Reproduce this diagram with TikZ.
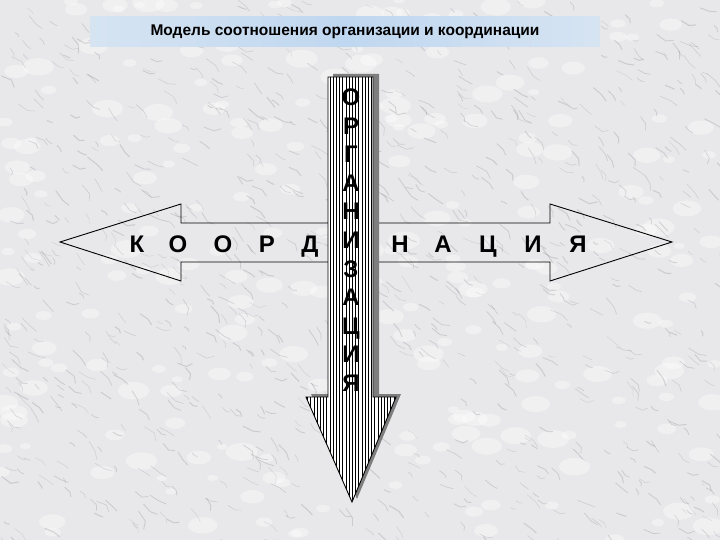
\documentclass[tikz,border=0pt]{standalone}
\usepackage{fontspec}
\setmainfont{Liberation Sans}
\definecolor{marble}{HTML}{E8E8EA}
\definecolor{veinc}{HTML}{74747C}
\definecolor{barblue}{HTML}{BFD7F0}
\definecolor{baredge}{HTML}{D6E4F2}
\definecolor{shadowc}{HTML}{7E7E7E}
\tikzset{
  harrow/.style={draw=black, line width=0.9pt, line join=miter},
  varrow/.style={draw=black, line width=0.9pt, line join=miter},
  hletter/.style={font=\fontsize{24}{28}\selectfont\bfseries, inner sep=0pt, anchor=base},
  vletter/.style={font=\fontsize{24}{28}\selectfont\bfseries, inner sep=0pt, anchor=base},
  titlebar/.style={left color=baredge, right color=baredge, middle color=barblue,
    minimum width=510pt, minimum height=30pt, inner sep=0pt,
    font=\fontsize{15.5}{17}\selectfont\bfseries},
  vein/.style={draw=veinc, opacity=0.24, line cap=round, line join=round}
}
\begin{document}
\begin{tikzpicture}[x=1pt,y=-1pt]
\useasboundingbox (0,0) rectangle (720,540);
\fill[marble] (0,0) rectangle (720,540);
% marble texture
\pgfmathsetseed{11}
\foreach \k in {1,...,260}{
  \pgfmathsetmacro{\px}{rnd*720}
  \pgfmathsetmacro{\py}{rnd*540}
  \pgfmathsetmacro{\rr}{3+6*rnd}
  \fill[white, opacity=0.35] (\px,\py) ellipse [x radius=\rr*1.8, y radius=\rr];
}
\foreach \k in {1,...,900}{
  \pgfmathsetmacro{\px}{rnd*720}
  \pgfmathsetmacro{\py}{rnd*540}
  \pgfmathsetmacro{\ang}{20+40*rnd}
  \pgfmathsetmacro{\angb}{\ang+50*rand}
  \pgfmathsetmacro{\len}{3+9*rnd}
  \pgfmathsetmacro{\gw}{0.3+0.8*rnd}
  \draw[vein, line width=\gw pt] (\px,\py) -- ++(\ang:\len) -- ++(\angb:\len*0.7);
}
% title
\node[titlebar] (title) at (345,32) {Модель соотношения организации и координации};
% horizontal double arrow
\draw[harrow] (60,242) -- (181,204) -- (181,223) -- (550,223) -- (550,204) -- (672,242)
  -- (550,281) -- (550,262) -- (181,262) -- (181,281) -- cycle;
% vertical arrow shadow
\fill[shadowc] (333,74) -- (379,74) -- (379,394) -- (401,394) -- (357,499) -- (311,394) -- (333,394) -- cycle;
% vertical arrow
\fill[white] (328,77) -- (373,77) -- (373,397) -- (396,397) -- (352,502) -- (306,397) -- (328,397) -- cycle;
\begin{scope}
  \clip (328,77) -- (373,77) -- (373,397) -- (396,397) -- (352,502) -- (306,397) -- (328,397) -- cycle;
  \foreach \xx in {0,...,28}{
    \draw[black, line width=0.55pt] (307.5+\xx*3.2,70) -- (307.5+\xx*3.2,505);
  }
\end{scope}
\draw[varrow] (328,77) -- (373,77) -- (373,397) -- (396,397) -- (352,502) -- (306,397) -- (328,397) -- cycle;
% horizontal letters
\node[hletter] (k1) at (137,252) {К};
\node[hletter] (k2) at (178,252) {О};
\node[hletter] (k3) at (223,252) {О};
\node[hletter] (k4) at (267,252) {Р};
\node[hletter] (k5) at (310,252) {Д};
\node[hletter] (k6) at (400,252) {Н};
\node[hletter] (k7) at (443,252) {А};
\node[hletter] (k8) at (488,252) {Ц};
\node[hletter] (k9) at (533,252) {И};
\node[hletter] (k10) at (578,252) {Я};
% vertical letters
\foreach \ch [count=\i from 0] in {О,Р,Г,А,Н,И,З,А,Ц,И,Я}{
  \node[vletter] (v\i) at (351,{105.5+28.6*\i}) {\ch};
}
\end{tikzpicture}
\end{document}
